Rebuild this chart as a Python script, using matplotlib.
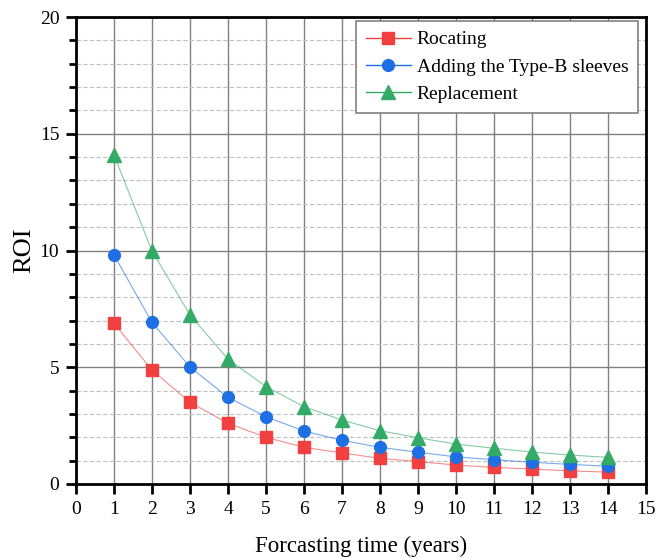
import matplotlib
matplotlib.use("Agg")
import matplotlib.pyplot as plt
from matplotlib.ticker import MultipleLocator

plt.rcParams['font.family'] = ['Liberation Serif', 'DejaVu Serif']
plt.rcParams['mathtext.fontset'] = 'stix'

years = list(range(1, 15))
rocating = [6.88, 4.88, 3.50, 2.60, 2.00, 1.57, 1.33, 1.10, 0.96, 0.81, 0.71, 0.64, 0.56, 0.51]
sleeves = [9.81, 6.92, 5.01, 3.71, 2.88, 2.27, 1.87, 1.57, 1.36, 1.16, 1.04, 0.93, 0.84, 0.76]
replacement = [14.09, 9.98, 7.24, 5.35, 4.17, 3.31, 2.74, 2.28, 1.98, 1.71, 1.53, 1.37, 1.24, 1.14]
labels = ["Rocating", "Adding the Type-B sleeves", "Replacement"]

W, H = 670, 558
fig = plt.figure(figsize=(W/100, H/100), dpi=100)
ax = fig.add_axes([76/W, 1-484/H, (646-76)/W, (484-17)/H])

series = [(rocating, '#F04040', 's', 8.5), (sleeves, '#1E6FE3', 'o', 8.5), (replacement, '#33AA66', '^', 9.5)]
for (vals, col, mk, ms), lab in zip(series, labels):
    ax.plot(years, vals, color=col, lw=0.8, alpha=0.6, zorder=3)
    ax.plot(years, vals, linestyle='none', marker=mk, color=col, ms=ms, zorder=4)
    ax.plot([], [], color=col, lw=1.0, marker=mk, ms=ms, label=lab)

ax.set_xlim(0, 15)
ax.set_ylim(0, 20)
ax.xaxis.set_major_locator(MultipleLocator(1))
ax.yaxis.set_major_locator(MultipleLocator(5))
ax.yaxis.set_minor_locator(MultipleLocator(1))

ax.grid(True, which='major', axis='both', color='#808080', lw=1.0, zorder=0)
ax.grid(True, which='minor', axis='y', color='#c0c0c0', lw=0.8, ls=(0, (4, 2)), zorder=0)
ax.set_axisbelow(True)

for s in ax.spines.values():
    s.set_linewidth(2.0)
ax.tick_params(axis='both', which='major', direction='out', length=7, width=2, labelsize=14, pad=5)
ax.tick_params(axis='y', which='minor', direction='out', length=5, width=2)
ax.tick_params(top=False, right=False)

ax.set_xlabel("Forcasting time (years)", fontsize=16.5, labelpad=13)
ax.set_ylabel("ROI", fontsize=19, labelpad=3)

# legend upper-right corner at pixel (638, 21)
anchor = ((638-76)/(646-76), (484-21)/(484-17))
leg = ax.legend(loc='upper right', bbox_to_anchor=anchor, borderaxespad=0,
                fontsize=14, frameon=True, fancybox=False,
                edgecolor='#808080', framealpha=1,
                handlelength=2.3, handletextpad=0.3, labelspacing=0.5, borderpad=0.5)
leg.get_frame().set_linewidth(1.2)

fig.savefig("out.png", dpi=100)
